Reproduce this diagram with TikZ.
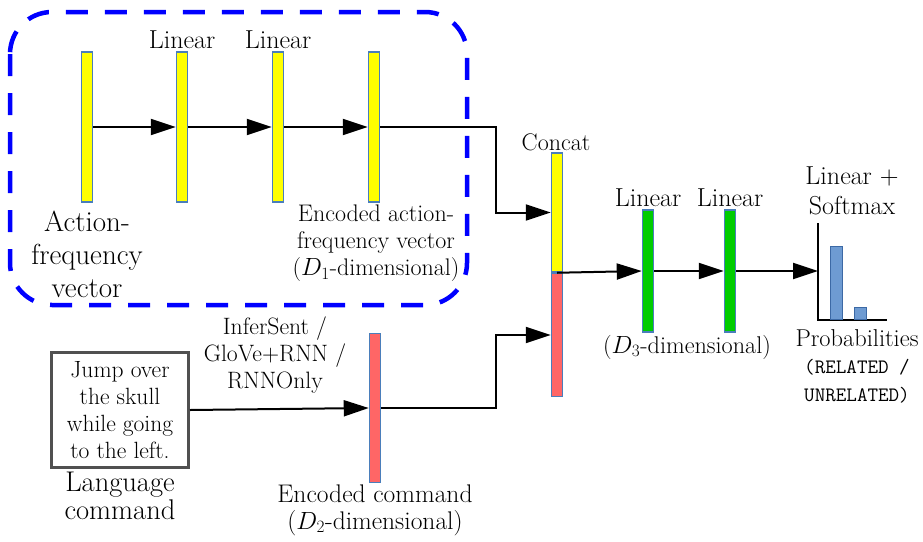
\documentclass[tikz,border=0pt]{standalone}
\usepackage{fontspec}
\usepackage{amsmath}
\usetikzlibrary{positioning, arrows.meta, calc}
\definecolor{barline}{RGB}{74,126,187}
\definecolor{encblue}{RGB}{0,0,255}
\definecolor{afyellow}{RGB}{255,255,0}
\definecolor{cmdred}{RGB}{255,102,102}
\definecolor{hidgreen}{RGB}{0,204,0}
\definecolor{probfill}{RGB}{110,155,210}
\definecolor{probline}{RGB}{60,105,165}
\definecolor{boxgrey}{RGB}{80,80,80}
\newcommand{\fsz}[2]{\fontsize{#1}{#2}\selectfont}

\begin{document}
\begin{tikzpicture}[x=1pt, y=-1pt,
    bar/.style={draw=barline, line width=1.5pt, inner sep=0pt, minimum width=11pt},
    ybar/.style={bar, fill=afyellow, minimum height=150pt},
    gbar/.style={bar, fill=hidgreen, minimum height=122pt},
    rbar/.style={bar, fill=cmdred},
    pbar/.style={draw=probline, fill=probfill, line width=1.5pt, inner sep=0pt,
                 minimum width=12pt, anchor=south},
    arr/.style={-{Triangle[length=25pt, width=16pt]}, line width=2pt},
    axis/.style={line width=2pt},
    enc/.style={draw=encblue, line width=4.5pt, dash pattern=on 22pt off 17pt,
                rounded corners=42pt},
    lbl/.style={align=center, inner sep=0pt},
    linlbl/.style={lbl, font=\fsz{26}{29}},
    cmdbox/.style={draw=boxgrey, line width=3pt, minimum width=137pt,
                   minimum height=115pt, align=center, inner sep=0pt}
  ]
  \useasboundingbox (0,0) rectangle (923,541);
  \def\ya{127} \def\yb{271} \def\yc{408}

  % action-frequency encoder
  \draw[enc] (10,12) rectangle (467,305);
  \node[ybar] (af)  at (87,\ya)  {};
  \node[ybar] (lin1) at (182,\ya) {};
  \node[ybar] (lin2) at (278,\ya) {};
  \node[ybar] (afenc) at (374,\ya) {};
  \node[lbl, font=\fsz{29}{33}] at (87,254) {Action-\\frequency\\vector};
  \node[linlbl] at (182,40) {Linear};
  \node[linlbl] at (278,40) {Linear};
  \node[lbl, font=\fsz{24}{27}] at (376,243) {Encoded action-\\frequency vector\\($D_1$-dimensional)};
  \draw[arr] (af.east) -- (lin1.west);
  \draw[arr] (lin1.east) -- (lin2.west);
  \draw[arr] (lin2.east) -- (afenc.west);

  % language command
  \node[cmdbox, font=\fsz{23.5}{27}] (cmd) at (120,410) {Jump over\\the skull\\while going\\to the left.};
  \node[lbl, font=\fsz{28.5}{28}] at (120,496) {Language\\command};
  \node[rbar, minimum height=149pt] (cmdenc) at (375,\yc) {};
  \node[lbl, font=\fsz{23.7}{27}] at (275,355) {InferSent /\\GloVe+RNN /\\RNNOnly};
  \node[lbl, font=\fsz{25.5}{27}] at (375,510) {Encoded command\\($D_2$-dimensional)};
  \draw[arr] (cmd.east) -- (cmdenc.west);

  % concat
  \coordinate (jt) at (496,0);
  \node[bar, fill=afyellow, minimum height=119pt] (caty) at (557,212.5) {};
  \node[bar, fill=cmdred, minimum height=123pt, anchor=north] (catr) at (caty.south) {};
  \node[lbl, font=\fsz{24}{25}] at (556,142) {Concat};
  \draw[arr] (afenc.east) -- (jt |- afenc.east) -- (jt |- caty.west) -- (caty.west);
  \draw[arr] (cmdenc.east) -- (jt |- cmdenc.east) -- (jt |- catr.west) -- (catr.west);

  % classifier
  \node[gbar] (hid1) at (648,\yb) {};
  \node[gbar] (hid2) at (730,\yb) {};
  \node[linlbl] at (648,198) {Linear};
  \node[linlbl] at (730,198) {Linear};
  \node[lbl, font=\fsz{24.2}{27}] at (687,347) {($D_3$-dimensional)};
  \draw[arr] (caty.south) -- (hid1.west);
  \draw[arr] (hid1.east) -- (hid2.west);

  % output probabilities
  \coordinate (axtop) at (818,223);
  \coordinate (org) at (818,320);
  \coordinate (axend) at (887,320);
  \draw[axis] (axtop) -- (org) -- (axend);
  \node[pbar, minimum height=73pt] (prel) at (836.5,320) {};
  \node[pbar, minimum height=12pt] (punrel) at (860.5,320) {};
  \draw[arr] (hid2.east) -- (hid2.east -| org);
  \node[lbl, font=\fsz{26}{30}] at (852,191) {Linear +\\Softmax};
  \node[lbl, font=\fsz{24.4}{27.5}] at (857,366)
    {Probabilities\\{\fsz{20.5}{27.5}\ttfamily(RELATED /}\\{\fsz{20.5}{27.5}\ttfamily UNRELATED)}};
\end{tikzpicture}
\end{document}
